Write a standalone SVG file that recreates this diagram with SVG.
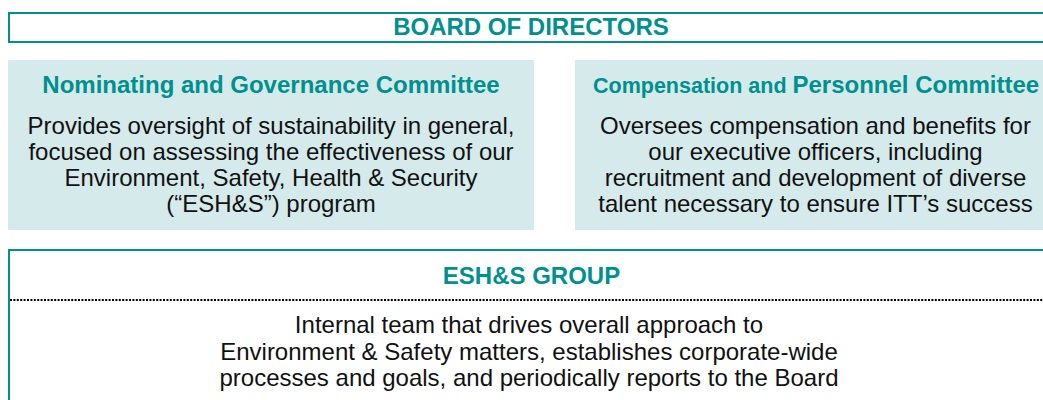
<svg xmlns="http://www.w3.org/2000/svg" width="1043" height="400" viewBox="0 0 1043 400">
  <style>
    .frame { fill: none; stroke: #00908f; stroke-width: 2; }
    .panel { fill: #d5eaea; stroke: none; }
    .title { font-family: "Liberation Sans", Arial, sans-serif; font-weight: bold; fill: #00908f; font-size: 24px; }
    .body { font-family: "Liberation Sans", Arial, sans-serif; fill: #111111; font-size: 24px; text-anchor: middle; }
    .dots { stroke: #000000; stroke-width: 2; stroke-dasharray: 2 1.4; fill: none; }
  </style>
  <rect width="1043" height="400" fill="#ffffff"/>
  <g id="board">
    <rect class="frame" x="9" y="13" width="1060" height="29"/>
    <text class="title" x="531" y="34.5" text-anchor="middle">BOARD OF DIRECTORS</text>
  </g>
  <g id="nominating">
    <rect class="panel" x="8" y="60" width="526" height="170"/>
    <text class="title" x="271" y="92.5" text-anchor="middle">Nominating and Governance Committee</text>
    <text class="body" x="271" y="133.5">Provides oversight of sustainability in general,</text>
    <text class="body" x="271" y="159.5">focused on assessing the effectiveness of our</text>
    <text class="body" x="271" y="185.5">Environment, Safety, Health &amp; Security</text>
    <text class="body" x="271" y="211.5">(“ESH&amp;S”) program</text>
  </g>
  <g id="compensation">
    <rect class="panel" x="575" y="60" width="480" height="170"/>
    <text class="title" x="593" y="92.5"><tspan font-size="21.5">Compensation and </tspan>Personnel Committee</text>
    <text class="body" x="815.5" y="133.5">Oversees compensation and benefits for</text>
    <text class="body" x="815.5" y="159.5">our executive officers, including</text>
    <text class="body" x="815.5" y="185.5">recruitment and development of diverse</text>
    <text class="body" x="815.5" y="211.5">talent necessary to ensure ITT’s success</text>
  </g>
  <g id="esh">
    <rect class="frame" x="9" y="250" width="1060" height="170"/>
    <text class="title" x="531.5" y="283.5" text-anchor="middle">ESH&amp;S GROUP</text>
    <line class="dots" x1="10" y1="300" x2="1043" y2="300"/>
    <text class="body" x="529" y="333">Internal team that drives overall approach to</text>
    <text class="body" x="529" y="359.5">Environment &amp; Safety matters, establishes corporate-wide</text>
    <text class="body" x="529" y="386">processes and goals, and periodically reports to the Board</text>
  </g>
  <g id="connectors"/>
</svg>
